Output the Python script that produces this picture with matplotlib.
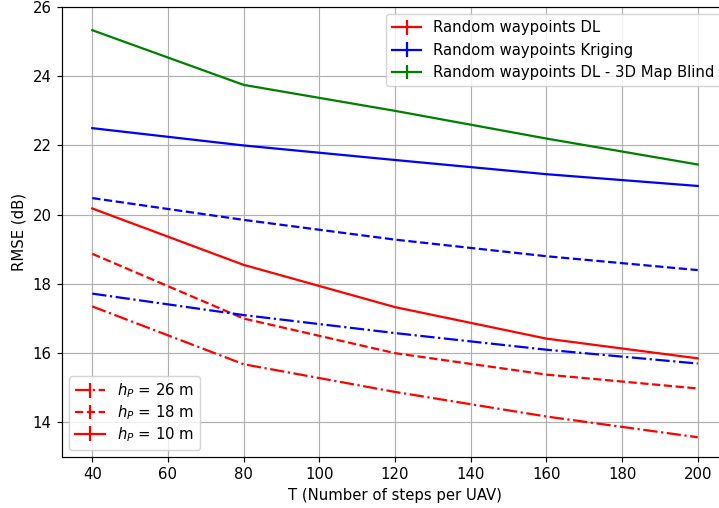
import numpy as np
import matplotlib
matplotlib.use('Agg')
import matplotlib.pyplot as plt

T = np.array([40, 80, 120, 160, 200])

# Random waypoints DL
dl_10 = np.array([20.18, 18.55, 17.33, 16.42, 15.85])
dl_18 = np.array([18.87, 17.00, 16.00, 15.38, 14.98])
dl_26 = np.array([17.35, 15.68, 14.88, 14.17, 13.57])

# Random waypoints Kriging
kr_10 = np.array([22.50, 22.00, 21.58, 21.17, 20.83])
kr_18 = np.array([20.48, 19.85, 19.28, 18.80, 18.40])
kr_26 = np.array([17.72, 17.10, 16.58, 16.10, 15.70])

# Random waypoints DL - 3D Map Blind
blind_10 = np.array([25.33, 23.75, 23.00, 22.20, 21.45])

method_labels = ['Random waypoints DL', 'Random waypoints Kriging',
                 'Random waypoints DL - 3D Map Blind']
height_labels = ['$h_P$ = 26 m', '$h_P$ = 18 m', '$h_P$ = 10 m']

# 719x508 px, slightly larger dpi so fonts/lines match
fig = plt.figure(figsize=(719/107, 508/107), dpi=107)
# the original is cropped on the right: axes run past the image edge
ax = fig.add_axes([62/719, 51/508, 666/719, 450/508])

zero = np.zeros(len(T))
e_dl10 = ax.errorbar(T, dl_10, yerr=zero, color='red', ls='-')
e_dl18 = ax.errorbar(T, dl_18, yerr=zero, color='red', ls='--')
e_dl26 = ax.errorbar(T, dl_26, yerr=zero, color='red', ls='-.')
e_kr10 = ax.errorbar(T, kr_10, yerr=zero, color='blue', ls='-')
e_kr18 = ax.errorbar(T, kr_18, yerr=zero, color='blue', ls='--')
e_kr26 = ax.errorbar(T, kr_26, yerr=zero, color='blue', ls='-.')
e_bl10 = ax.errorbar(T, blind_10, yerr=zero, color='green', ls='-')

ax.set_xlim(32, 208)
ax.set_ylim(13, 26)
ax.set_xticks(np.arange(40, 201, 20))
ax.grid(True)
ax.set_xlabel('T (Number of steps per UAV)')
ax.set_ylabel('RMSE (dB)')

leg1 = ax.legend([e_dl10, e_kr10, e_bl10], method_labels, loc='upper right')
ax.add_artist(leg1)
ax.legend([e_dl26, e_dl18, e_dl10], height_labels, loc='lower left',
          labelspacing=0.2)

plt.savefig('out.png', dpi=107)
